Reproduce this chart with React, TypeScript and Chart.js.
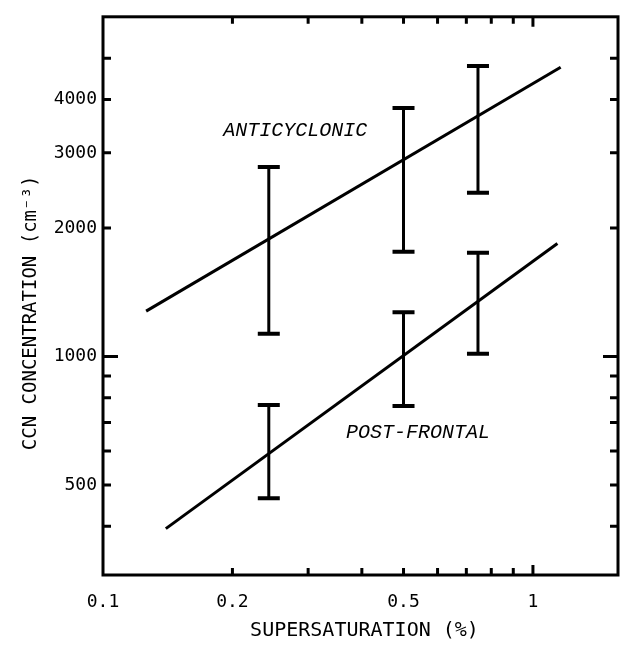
import React, { useEffect, useRef } from "react";
import { Chart, registerables } from "chart.js";

Chart.register(...registerables);

// ---- data ----
const supersaturation = [0.243, 0.5, 0.745];
const anticyclonicLow = [1130, 1760, 2420];
const anticyclonicHigh = [2780, 3820, 4790];
const postFrontalLow = [465, 765, 1015];
const postFrontalHigh = [770, 1270, 1750];

const anticyclonicFitX = [0.126, 1.16];
const anticyclonicFitY = [1277, 4760];
const postFrontalFitX = [0.14, 1.14];
const postFrontalFitY = [395, 1840];

const xTickValues = [0.1, 0.2, 0.5, 1];
const xTickLabels = ["0.1", "0.2", "0.5", "1"];
const yTickValues = [500, 1000, 2000, 3000, 4000];
const yTickLabels = ["500", "1000", "2000", "3000", "4000"];

const xMinorTicks = [0.2, 0.3, 0.4, 0.5, 0.6, 0.7, 0.8, 0.9, 1];
const yMinorTicks = [400, 500, 600, 700, 800, 900, 1000, 2000, 3000, 4000, 5000];
const xLongTick = 1;
const yLongTick = 1000;

const annotationTexts = ["ANTICYCLONIC", "POST-FRONTAL"];
const annotationX = [0.28, 0.54];
const annotationY = [3376, 663];

const xTitle = "SUPERSATURATION (%)";
const yTitle = "CCN CONCENTRATION (cm\u207B\u00B3)";

const X_MIN = 0.1;
const X_MAX = 1.577;
const Y_MIN = 307.5;
const Y_MAX = 6250;

const MONO = '"DejaVu Sans Mono", monospace';

const decorPlugin = {
  id: "decor",
  afterDatasetsDraw(chart: any) {
    const { ctx, chartArea: a, scales } = chart;
    const x = scales.x;
    const y = scales.y;
    ctx.save();
    ctx.strokeStyle = "#000";
    ctx.fillStyle = "#000";
    ctx.lineCap = "butt";

    const drawBars = (lo: number[], hi: number[]) => {
      supersaturation.forEach((s, i) => {
        const px = x.getPixelForValue(s);
        const pLo = y.getPixelForValue(lo[i]);
        const pHi = y.getPixelForValue(hi[i]);
        ctx.lineWidth = 3;
        ctx.beginPath();
        ctx.moveTo(px, pLo);
        ctx.lineTo(px, pHi);
        ctx.stroke();
        ctx.lineWidth = 4;
        ctx.beginPath();
        ctx.moveTo(px - 11, pLo);
        ctx.lineTo(px + 11, pLo);
        ctx.moveTo(px - 11, pHi);
        ctx.lineTo(px + 11, pHi);
        ctx.stroke();
      });
    };
    drawBars(anticyclonicLow, anticyclonicHigh);
    drawBars(postFrontalLow, postFrontalHigh);

    // frame
    ctx.lineWidth = 3;
    ctx.lineJoin = "miter";
    ctx.strokeRect(a.left, a.top, a.right - a.left, a.bottom - a.top);

    // inward ticks
    ctx.lineWidth = 3;
    ctx.beginPath();
    xMinorTicks.forEach((v) => {
      const px = x.getPixelForValue(v);
      const len = v === xLongTick ? 10 : 7;
      ctx.moveTo(px, a.bottom);
      ctx.lineTo(px, a.bottom - len);
      ctx.moveTo(px, a.top);
      ctx.lineTo(px, a.top + len);
    });
    yMinorTicks.forEach((v) => {
      const py = y.getPixelForValue(v);
      const len = v === yLongTick ? 15 : 8;
      ctx.moveTo(a.left, py);
      ctx.lineTo(a.left + len, py);
      ctx.moveTo(a.right, py);
      ctx.lineTo(a.right - len, py);
    });
    ctx.stroke();

    // annotations
    ctx.font = 'italic 20px "Liberation Mono", monospace';
    ctx.textAlign = "center";
    ctx.textBaseline = "middle";
    annotationTexts.forEach((t, i) => {
      ctx.fillText(t, x.getPixelForValue(annotationX[i]), y.getPixelForValue(annotationY[i]));
    });

    // axis titles
    ctx.font = "20px " + MONO;
    ctx.fillText(xTitle, (a.left + a.right) / 2 + 4, a.bottom + 56);
    ctx.save();
    ctx.translate(31, (a.top + a.bottom) / 2 + 17);
    ctx.rotate(-Math.PI / 2);
    ctx.font = "19px " + MONO;
    ctx.fillText(yTitle, 0, 0);
    ctx.restore();

    ctx.restore();
  },
};

export default function App() {
  const canvasRef = useRef<HTMLCanvasElement | null>(null);

  useEffect(() => {
    const canvas = canvasRef.current;
    if (!canvas) return;
    const chart = new Chart(canvas, {
      type: "line",
      data: {
        datasets: [
          {
            label: "Anticyclonic",
            data: anticyclonicFitX.map((v, i) => ({ x: v, y: anticyclonicFitY[i] })),
            borderColor: "#000",
            borderWidth: 3,
            pointRadius: 0,
            fill: false,
          },
          {
            label: "Post-frontal",
            data: postFrontalFitX.map((v, i) => ({ x: v, y: postFrontalFitY[i] })),
            borderColor: "#000",
            borderWidth: 3,
            pointRadius: 0,
            fill: false,
          },
        ],
      },
      options: {
        responsive: false,
        animation: false,
        devicePixelRatio: 1,
        layout: { padding: { top: 13, right: 8, left: 0, bottom: 0 } },
        plugins: {
          legend: { display: false },
          tooltip: { enabled: false },
        },
        scales: {
          x: {
            type: "logarithmic",
            min: X_MIN,
            max: X_MAX,
            grid: { display: false, drawTicks: false },
            border: { display: false },
            afterBuildTicks: (scale: any) => {
              scale.ticks = xTickValues.map((v) => ({ value: v }));
            },
            afterFit: (scale: any) => {
              scale.height = 71;
            },
            ticks: {
              autoSkip: false,
              maxRotation: 0,
              minRotation: 0,
              padding: 17,
              color: "#000",
              font: { family: MONO, size: 18 },
              callback: (value: any) => {
                const i = xTickValues.indexOf(Number(value));
                return i >= 0 ? xTickLabels[i] : "";
              },
            },
          },
          y: {
            type: "logarithmic",
            min: Y_MIN,
            max: Y_MAX,
            grid: { display: false, drawTicks: false },
            border: { display: false },
            afterBuildTicks: (scale: any) => {
              scale.ticks = yTickValues.map((v) => ({ value: v }));
            },
            afterFit: (scale: any) => {
              scale.width = 103;
            },
            ticks: {
              autoSkip: false,
              padding: 6,
              color: "#000",
              font: { family: MONO, size: 18 },
              callback: (value: any) => {
                const i = yTickValues.indexOf(Number(value));
                return i >= 0 ? yTickLabels[i] : "";
              },
            },
          },
        },
      },
      plugins: [decorPlugin],
    });
    return () => chart.destroy();
  }, []);

  return (
    <div style={{ position: "absolute", left: 0, top: 0, width: 626, height: 646, background: "#fff" }}>
      <canvas ref={canvasRef} width={626} height={646} style={{ display: "block" }} />
    </div>
  );
}
